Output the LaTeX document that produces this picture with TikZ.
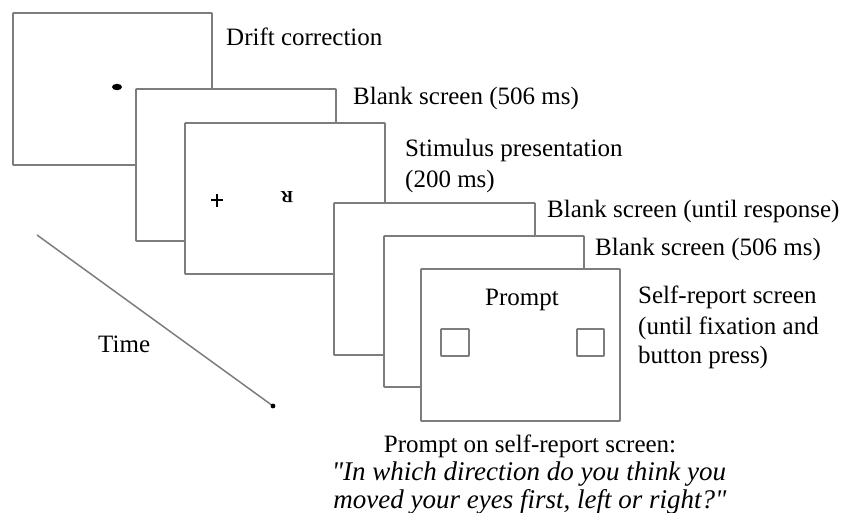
\documentclass[tikz,border=0pt]{standalone}
\usepackage{fontspec}
\setmainfont{Liberation Serif}
\newfontfamily\qfont{Liberation Serif}[Ligatures=TeXOff]
\usepackage{graphicx}
\definecolor{framegray}{RGB}{125,125,125}
\tikzset{
  screen/.style={draw=framegray, line width=1.9pt, fill=white, rounded corners=0.8pt},
  lbl/.style={anchor=base west, inner sep=0pt, font=\fontsize{25}{30}\selectfont},
  clbl/.style={anchor=base, inner sep=0pt, font=\fontsize{25}{30}\selectfont},
  qlbl/.style={anchor=base, inner sep=0pt, font=\qfont\fontsize{27}{30}\selectfont\itshape},
  tinybox/.style={draw=framegray, line width=1.6pt, rounded corners=0.5pt},
}
\begin{document}
\begin{tikzpicture}[x=1pt,y=-1pt]
\useasboundingbox (0,0) rectangle (845,513);
% screens
\draw[screen] (13,13) rectangle (212,165);
\coordinate (s1) at (117,87);
\fill (s1) ellipse (5pt and 3.2pt);
\draw[screen] (136,89) rectangle (336,241);
\draw[screen] (185,123) rectangle (385,274);
\coordinate (plus) at (217,200);
\draw[line width=2.8pt] ([xshift=-6pt]plus) -- ([xshift=6pt]plus);
\draw[line width=2.8pt] ([yshift=-6.5pt]plus) -- ([yshift=6.5pt]plus);
\node[inner sep=0pt, font=\fontsize{17}{17}\selectfont\bfseries] (rr) at (287,197) {\rotatebox{180}{R}};
\draw[screen] (334,203) rectangle (535,355);
\draw[screen] (384,236) rectangle (584,387);
\draw[screen] (421,269) rectangle (620,421);
\node[clbl] (prompt) at (522,305) {Prompt};
\draw[tinybox] (441,329) rectangle (469,356);
\draw[tinybox] (577,329) rectangle (604,356);
% labels
\node[lbl] (l1) at (226,46) {Drift correction};
\node[lbl] (l2) at (353,105) {Blank screen (506 ms)};
\node[lbl] (l3) at (405,157) {Stimulus presentation};
\node[lbl] (l3b) at (405,187) {(200 ms)};
\node[lbl] (l4) at (547,217) {Blank screen (until response)};
\node[lbl] (l5) at (595,255) {Blank screen (506 ms)};
\node[lbl] (l6) at (638,303) {Self-report screen};
\node[lbl] (l6b) at (638,334) {(until fixation and};
\node[lbl] (l6c) at (638,363) {button press)};
% time arrow
\coordinate (ta) at (37,235);
\coordinate (tb) at (273,406);
\draw[framegray, line width=1.5pt] (ta) -- (tb);
\fill (tb) circle (2.4pt);
\node[lbl] (time) at (98,352) {Time};
% prompt text
\node[clbl] (p1) at (530,452) {Prompt on self-report screen:};
\node[qlbl] (p2) at (529,480) {"In which direction do you think you};
\node[qlbl] (p3) at (530,508) {moved your eyes first, left or right?"};
\end{tikzpicture}
\end{document}
